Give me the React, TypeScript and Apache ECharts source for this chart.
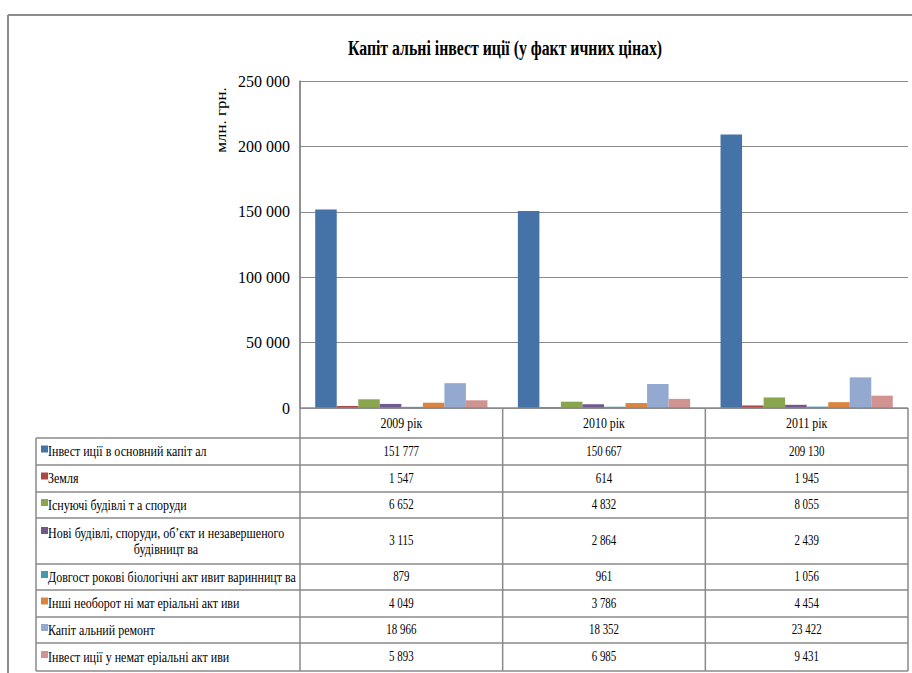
import React, { useEffect, useRef } from "react";
import * as echarts from "echarts";

const title = "Капіт альні інвест иції (у факт ичних цінах)";
const yAxisName = "млн. грн.";
const categories = ["2009 рік", "2010 рік", "2011 рік"];
const seriesNames = [
  "Інвест иції в основний капіт ал",
  "Земля",
  "Існуючі будівлі т а споруди",
  "Нові будівлі, споруди, об’єкт и незавершеного|будівницт ва",
  "Довгост рокові біологічні акт ивит варинницт ва",
  "Інші необорот ні мат еріальні акт иви",
  "Капіт альний ремонт",
  "Інвест иції у немат еріальні акт иви",
];
const investFixed = [151777, 150667, 209130];
const land = [1547, 614, 1945];
const existingBuildings = [6652, 4832, 8055];
const newBuildings = [3115, 2864, 2439];
const bioAssets = [879, 961, 1056];
const otherNonCurrent = [4049, 3786, 4454];
const capitalRepair = [18966, 18352, 23422];
const intangible = [5893, 6985, 9431];
const seriesValues = [
  investFixed,
  land,
  existingBuildings,
  newBuildings,
  bioAssets,
  otherNonCurrent,
  capitalRepair,
  intangible,
];
const colors = ["#4572A7", "#AA4643", "#89A54E", "#71588F", "#4198AF", "#DB843D", "#93A9CF", "#D19392"];

const fmt = (n: number) => String(n).replace(/\B(?=(\d{3})+(?!\d))/g, " ");

const FONT = "Liberation Serif, Times New Roman, serif";
const LINE = "#8a8a8a";

// layout
const gridLeft = 300;
const gridTop = 81;
const gridRight = 908;
const gridBottom = 408;
const tableLeft = 36;
const rowBounds = [438, 465, 492, 518, 564, 590, 617, 643, 671];

export default function App() {
  const ref = useRef<HTMLDivElement>(null);
  useEffect(() => {
    if (!ref.current) return;
    const chart = echarts.init(ref.current, undefined, { renderer: "svg" });
    const colW = (gridRight - gridLeft) / categories.length;
    const graphics: any[] = [];
    const txt = (text: string, x: number, y: number, size: number, align: string, sx: number, extra: any = {}) => ({
      type: "text",
      x,
      y,
      scaleX: sx,
      z: 100,
      ...extra,
      style: { text, x: 0, y: 0, align, verticalAlign: "middle", fontFamily: FONT, fontSize: size, fontWeight: extra.bold ? "bold" : "normal", fill: "#000" },
    });
    // outer frame
    graphics.push({ type: "line", shape: { x1: 8, y1: 15, x2: 912, y2: 15 }, style: { stroke: "#8c8c8c", lineWidth: 2 }, z: 100 });
    graphics.push({ type: "line", shape: { x1: 8, y1: 15, x2: 8, y2: 673 }, style: { stroke: "#8c8c8c", lineWidth: 2 }, z: 100 });
    // title
    graphics.push(txt(title, 505, 48, 20, "center", 0.79, { bold: true }));
    // y axis name
    graphics.push(txt(yAxisName, 221, 120, 15, "center", 1.13, { rotation: Math.PI / 2 }));
    // table horizontal lines
    graphics.push({ type: "line", shape: { x1: gridLeft, y1: gridBottom, x2: gridRight, y2: gridBottom }, style: { stroke: LINE, lineWidth: 1.5 }, z: 100 });
    rowBounds.forEach((y) => {
      graphics.push({ type: "line", shape: { x1: tableLeft, y1: y, x2: gridRight, y2: y }, style: { stroke: LINE, lineWidth: 1.5 }, z: 100 });
    });
    // vertical lines
    graphics.push({ type: "line", shape: { x1: tableLeft, y1: rowBounds[0], x2: tableLeft, y2: rowBounds[rowBounds.length - 1] }, style: { stroke: LINE, lineWidth: 1.5 }, z: 100 });
    for (let i = 0; i <= categories.length; i++) {
      const x = gridLeft + colW * i;
      graphics.push({ type: "line", shape: { x1: x, y1: i === 0 ? gridTop : gridBottom, x2: x, y2: rowBounds[rowBounds.length - 1] }, style: { stroke: LINE, lineWidth: 1.5 }, z: 100 });
    }
    // header
    categories.forEach((c, i) => {
      graphics.push(txt(c, gridLeft + colW * (i + 0.5), (gridBottom + rowBounds[0]) / 2, 14, "center", 0.85));
    });
    // rows
    seriesNames.forEach((name, r) => {
      const top = rowBounds[r];
      const bot = rowBounds[r + 1];
      const mid = (top + bot) / 2;
      const lines = name.split("|");
      const firstY = lines.length > 1 ? top + 15 : mid;
      graphics.push({ type: "rect", shape: { x: 41, y: firstY - 6, width: 7, height: 7 }, style: { fill: colors[r] }, z: 100 });
      graphics.push(txt(lines[0], 48, firstY, 15, "left", 0.8));
      if (lines.length > 1) {
        graphics.push(txt(lines[1], 166, firstY + 16, 15, "center", 0.8));
      }
      seriesValues[r].forEach((v, i) => {
        graphics.push(txt(fmt(v), gridLeft + colW * (i + 0.5), mid, 14, "center", 0.78));
      });
    });

    chart.setOption({
      animation: false,
      backgroundColor: "#fff",
      grid: { left: gridLeft, top: gridTop, width: gridRight - gridLeft, height: gridBottom - gridTop, containLabel: false },
      xAxis: {
        type: "category",
        data: categories,
        axisLine: { show: false },
        axisTick: { show: false },
        axisLabel: { show: false },
      },
      yAxis: {
        type: "value",
        min: 0,
        max: 250000,
        interval: 50000,
        axisLine: { show: true, lineStyle: { color: LINE, width: 1.5 } },
        axisTick: { show: false },
        splitLine: { show: true, lineStyle: { color: LINE, width: 1.2 } },
        axisLabel: { fontFamily: FONT, fontSize: 16, color: "#000", margin: 10, formatter: (v: number) => fmt(v) },
      },
      series: seriesNames.map((n, i) => ({
        type: "bar",
        name: n.replace("|", " "),
        data: seriesValues[i],
        barGap: "0%",
        barCategoryGap: "15%",
        itemStyle: { color: colors[i] },
      })),
      graphic: graphics,
    });
    return () => chart.dispose();
  }, []);
  return <div ref={ref} style={{ position: "fixed", left: 0, top: 0, width: 912, height: 673 }} />;
}
